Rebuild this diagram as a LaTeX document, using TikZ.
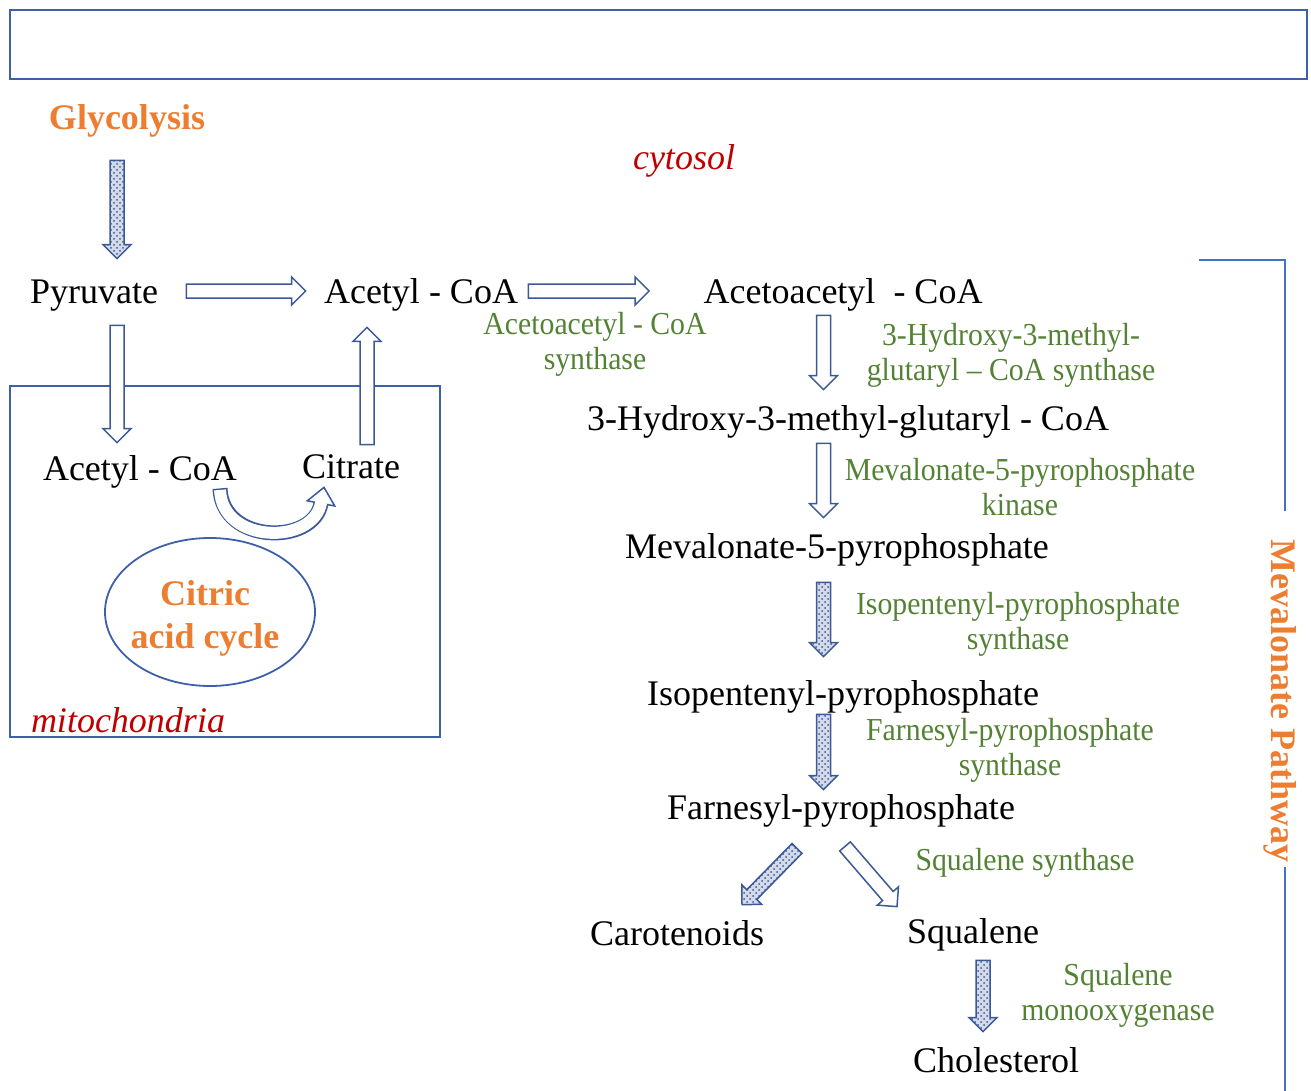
\documentclass[tikz,border=0pt]{standalone}
\usepackage{fontspec}
\setmainfont{Liberation Serif}
\newfontfamily\enzfont[FakeStretch=0.93]{Liberation Serif}
\usetikzlibrary{calc,patterns,shapes.geometric,arrows.meta}

\definecolor{arrowblue}{RGB}{59,89,152}
\definecolor{boxblue}{RGB}{62,96,168}
\definecolor{bracketblue}{RGB}{68,114,196}
\definecolor{pathorange}{RGB}{237,125,49}
\definecolor{enzgreen}{RGB}{84,130,53}
\definecolor{compred}{RGB}{192,0,0}

\begin{document}
\begin{tikzpicture}[x=0.5pt, y=-0.5pt,
  lbl/.style={inner sep=1pt, text height=15pt, text depth=3pt, font=\fontsize{18}{21}\selectfont},
  orangelbl/.style={lbl, text=pathorange, font=\bfseries\fontsize{18}{21}\selectfont},
  redlbl/.style={lbl, text=compred, font=\itshape\fontsize{18}{21}\selectfont},
  enz/.style={inner sep=1pt, align=center, text=enzgreen, font=\enzfont\fontsize{16}{17.5}\selectfont},
  boxline/.style={draw=boxblue, line width=1pt},
  bracket/.style={draw=bracketblue, line width=1pt},
  tcacycle/.style={ellipse, draw=boxblue, line width=0.9pt, minimum width=105pt, minimum height=74pt,
    inner sep=0pt},
  tcatext/.style={align=center, inner sep=1pt, text=pathorange, font=\bfseries\fontsize{18}{21.5}\selectfont},
  blockarrow/.style={draw=arrowblue, line width=0.75pt, line join=miter,
    to path={($(\tikztostart)!3.5pt!90:(\tikztotarget)$)
      -- ($(\tikztotarget)!7pt!(\tikztostart)!3.5pt!-90:(\tikztostart)$)
      -- ($(\tikztotarget)!7pt!(\tikztostart)!7pt!-90:(\tikztostart)$)
      -- (\tikztotarget)
      -- ($(\tikztotarget)!7pt!(\tikztostart)!7pt!90:(\tikztostart)$)
      -- ($(\tikztotarget)!7pt!(\tikztostart)!3.5pt!90:(\tikztostart)$)
      -- ($(\tikztostart)!3.5pt!-90:(\tikztotarget)$) -- cycle}},
  hollowarrow/.style={blockarrow, fill=white},
  dotarrow/.style={blockarrow, preaction={fill=arrowblue!22}, pattern=crosshatch dots, pattern color=arrowblue},
  curveshaft/.style={draw=arrowblue, line width=7.5pt},
  curvegap/.style={draw=white, line width=6pt}]
  \useasboundingbox (0,0) rectangle (1311,1091);
  \coordinate (col) at (823.5,0);
  \coordinate (pagebot) at (0,1091);

  % --- frames ---
  \draw[boxline] (10,10) rectangle (1307,79);
  \draw[boxline] (10,386) rectangle (440,737);

  % --- cytosol ---
  \node[orangelbl] (glyc) at (127,118) {Glycolysis};
  \node[redlbl] (cyt) at (684,158) {cytosol};
  \node[lbl] (pyr) at (94,291) {Pyruvate};
  \node[lbl] (acoa) at (421,291) {Acetyl - CoA};
  \node[lbl] (acac) at (843,291) {Acetoacetyl\ \ - CoA};
  \node[enz] (acacsyn) at (595,344) {Acetoacetyl - CoA\\synthase};

  % --- mitochondria ---
  \node[lbl] (macoa) at (140,468) {Acetyl - CoA};
  \node[lbl] (cit) at (351,466) {Citrate};
  \node[tcacycle] (tca) at (210,612) {};
  \node[tcatext] (tcalbl) at ($(tca.center)+(-5,6)$) {Citric\\acid cycle};
  \node[redlbl] (mito) at (128,720) {mitochondria};

  % --- mevalonate pathway ---
  \node[enz] (hmgsyn) at (1011,355) {3-Hydroxy-3-methyl-\\glutaryl – CoA synthase};
  \node[lbl] (hmg) at (848,418) {3-Hydroxy-3-methyl-glutaryl - CoA};
  \node[enz] (mvk) at (1020,487) {Mevalonate-5-pyrophosphate\\kinase};
  \node[lbl] (meva) at (837,546) {Mevalonate-5-pyrophosphate};
  \node[enz] (ippsyn) at (1018,624) {Isopentenyl-pyrophosphate\\synthase};
  \node[lbl] (ipp) at (843,693) {Isopentenyl-pyrophosphate};
  \node[enz] (fppsyn) at (1010,750) {Farnesyl-pyrophosphate\\synthase};
  \node[lbl] (farn) at (841,807) {Farnesyl-pyrophosphate};
  \node[enz] (sqsyn) at (1025,863) {Squalene synthase};
  \node[lbl] (carot) at (677,933) {Carotenoids};
  \node[lbl] (squal) at (973,931) {Squalene};
  \node[enz] (sqmo) at (1118,995) {Squalene\\monooxygenase};
  \node[lbl] (chol) at (996,1060) {Cholesterol};

  % --- bracket ---
  \node[orangelbl, rotate=-90] (mvp) at (1283,701) {Mevalonate Pathway};
  \draw[bracket] (1199,260) -| ($(mvp.west)+(2,-26)$);
  \draw[bracket] ($(mvp.east)+(2,2)$) -- ($(mvp.east |- pagebot)+(2,0)$);

  % --- arrows ---
  \draw[dotarrow] ($(glyc.south)+(-10,22)$) to ($(pyr.north)+(23,-12)$);
  \draw[hollowarrow] ($(pyr.east)+(26,0)$) to ($(acoa.west)+(-16,0)$);
  \draw[hollowarrow] ($(acoa.east)+(8,0)$) to ($(acac.west)+(-52,0)$);
  \draw[hollowarrow] ($(pyr.south)+(23,14)$) to ($(macoa.north)+(-23,-5)$);
  \draw[hollowarrow] ($(cit.north)+(16,-1)$) to ($(acoa.south)+(-54,16)$);
  \draw[hollowarrow] ($(acac.south -| col)+(0,4)$) to ($(hmg.north -| col)+(0,-8)$);
  \draw[hollowarrow] ($(hmg.south -| col)+(0,5)$) to ($(meva.north -| col)+(0,-8)$);
  \draw[dotarrow] ($(meva.south -| col)+(0,16)$) to ($(ipp.north -| col)+(0,-16)$);
  \draw[dotarrow] ($(ipp.south -| col)+(0,1)$) to ($(farn.north -| col)+(0,3)$);
  \draw[dotarrow] ($(farn.south)+(-44,21)$) to ($(carot.north)+(65,-8)$);
  \draw[hollowarrow] ($(farn.south)+(4,19)$) to ($(squal.north)+(-76,-4)$);
  \draw[dotarrow] ($(squal.south)+(10,9)$) to ($(squal.south |- chol.north)+(10,-8)$);

  % --- acetyl-CoA round to citrate ---
  \coordinate (cs) at ($(macoa.south)+(80,0)$);
  \coordinate (cb) at ($(cit.south)+(-30,17)$);
  \coordinate (ct) at ($(cit.south)+(-27,1)$);
  \draw[curveshaft] (cs) .. controls +(2,56) and ($(cit.south)+(-37,59)$) .. (cb);
  \draw[arrowblue, fill=white, line width=0.75pt, line join=miter]
    ($(cb)!7pt!90:(ct)$) -- (ct) -- ($(cb)!7pt!-90:(ct)$) -- cycle;
  \draw[curvegap, shorten <=0.75pt, shorten >=-0.6pt] (cs) .. controls +(2,56) and ($(cit.south)+(-37,59)$) .. (cb);
\end{tikzpicture}
\end{document}
